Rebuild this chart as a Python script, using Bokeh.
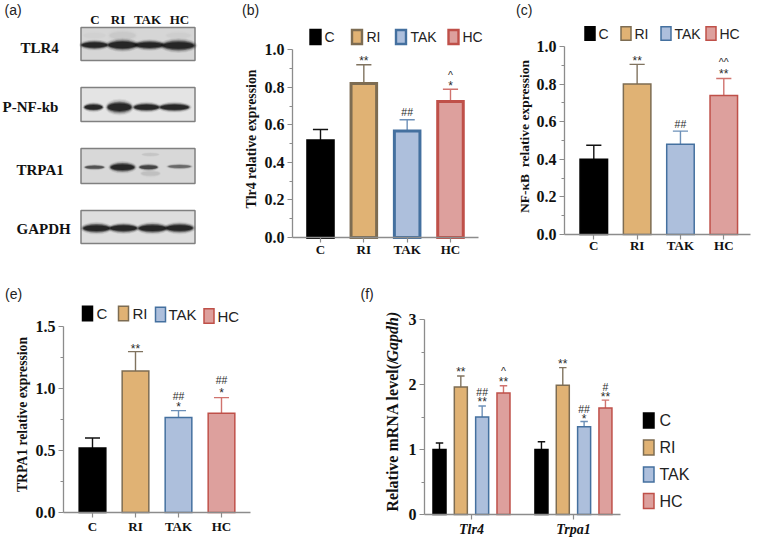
from bokeh.plotting import figure
from bokeh.layouts import column, row
from bokeh.models import Range1d, FixedTicker, NumeralTickFormatter
from bokeh.core.properties import value
from bokeh.embed import file_html
from bokeh.resources import INLINE

# ---------- data ----------
series = ["C", "RI", "TAK", "HC"]
tlr4_mean = [0.515, 0.82, 0.567, 0.725]
tlr4_top = [0.575, 0.92, 0.627, 0.79]
nfkb_mean = [0.40, 0.80, 0.48, 0.74]
nfkb_top = [0.475, 0.905, 0.55, 0.83]
trpa1_mean = [0.52, 1.14, 0.765, 0.80]
trpa1_top = [0.60, 1.295, 0.82, 0.925]
mrna_tlr4_mean = [1.0, 1.96, 1.5, 1.87]
mrna_tlr4_top = [1.10, 2.13, 1.67, 1.98]
mrna_trpa1_mean = [1.0, 1.99, 1.35, 1.64]
mrna_trpa1_top = [1.12, 2.26, 1.43, 1.76]

fills = ["#000000", "#e0b274", "#adbfdc", "#dda09d"]
edges = ["#000000", "#7d6c52", "#44709f", "#bf5049"]
whisk = ["#111111", "#80735f", "#6d90b8", "#d0736e"]

SERIF = "Liberation Serif"
SANS = "Liberation Sans"
AX = "#8c8c8c"


def make_panel(box, frame_left, frame_bottom, x_origin, x_unit, y_max, y_max_px, axis_end_px, standoff=0):
    cx0, cy0, cx1, cy1 = box
    unit_y = (frame_bottom - y_max_px) / y_max
    xr = Range1d((cx0 - x_origin) / x_unit, (cx1 - x_origin) / x_unit)
    yr = Range1d((frame_bottom - cy1) / unit_y, (frame_bottom - cy0) / unit_y)
    p = figure(width=cx1 - cx0, height=cy1 - cy0, x_range=xr, y_range=yr,
               min_border=0, output_backend="svg",
               toolbar_location=None, outline_line_color=None, background_fill_color=None,
               border_fill_color=None)
    p.grid.visible = False
    px = lambda v: (v - x_origin) / x_unit
    py = lambda v: (frame_bottom - v) / unit_y
    for ax in (p.xaxis[0], p.yaxis[0]):
        ax.axis_line_color = AX
        ax.axis_line_width = 1.3
        ax.major_tick_line_color = AX
        ax.major_tick_line_width = 1.2
        ax.minor_tick_line_color = AX
        ax.major_tick_in = 0
        ax.minor_tick_in = 0
        ax.major_tick_out = 5
        ax.minor_tick_out = 3
        ax.major_label_text_font = SERIF
        ax.major_label_text_font_style = "bold"
        ax.major_label_text_color = "#111111"
    p.xaxis[0].fixed_location = 0
    p.xaxis[0].bounds = (px(frame_left), px(axis_end_px))
    p.xaxis[0].minor_tick_out = 0
    p.xaxis[0].major_label_text_font_size = "13px"
    p.xaxis[0].major_label_standoff = standoff
    p.yaxis[0].fixed_location = px(frame_left)
    p.yaxis[0].bounds = (0, y_max)
    p.yaxis[0].major_label_text_font_size = "16px"
    p.yaxis[0].major_label_standoff = 3
    return p, px, py


def draw_bars(p, xs, mean, top, bar_w, lw):
    for i in range(4):
        p.segment([xs[i]], [mean[i]], [xs[i]], [top[i]], line_color=whisk[i], line_width=1.4)
        p.segment([xs[i] - 0.175], [top[i]], [xs[i] + 0.175], [top[i]], line_color=whisk[i], line_width=1.4)
        p.vbar(x=[xs[i]], width=bar_w, top=[mean[i]], bottom=0, fill_color=fills[i],
               line_color=edges[i], line_width=lw, line_join="miter")


def legend(p, px, py, swatch_x, text_x, ys, sw, sh, size, lw):
    for i, s in enumerate(series):
        p.quad(left=[px(swatch_x[i])], right=[px(swatch_x[i] + sw)],
               top=[py(ys[i] - sh / 2)], bottom=[py(ys[i] + sh / 2)],
               fill_color=fills[i], line_color=edges[i], line_width=lw, line_join="miter")
        p.text([px(text_x[i])], [py(ys[i])], text=[s], text_font=value(SANS), text_font_size=size,
               text_baseline="middle", text_align="left", text_color="#222222")


def marks(p, px, py, items):
    for x, txt, y in items:
        star = txt.startswith("*")
        p.text([x], [py(y + (2.5 if star else 0))], text=[txt], text_font=value(SANS),
               text_font_size="12px" if star else "10.5px",
               text_align="center", text_baseline="middle", text_color="#2a2a2a")


def panel_tag(p, x, y, txt):
    p.text([x], [y], text=[txt], text_font=value(SANS), text_font_size="14px",
           text_color="#222222", text_align="left", text_baseline="middle")


def y_title(p, x, y, txt, size, style="bold", align="center"):
    p.text([x], [y], text=[txt], angle=90, angle_units="deg", text_font=value(SERIF),
           text_font_size=size, text_font_style=style, text_color="#111111",
           text_align=align, text_baseline="middle")


# ---------- (a) blots ----------
blot_rows = ["TLR4", "P-NF-kb", "TRPA1", "GAPDH"]
blot_label_x = [20, 2, 16, 16]
blot_label_y = [47, 106, 169, 228]
blot_box_top = [27, 87, 148, 210]
blot_box_bottom = [60, 121, 183, 243]
blot_bg = ["#d6d6d6", "#e4e4e4", "#d8d8d8", "#dedede"]
lane_names_x = [94.5, 117.5, 147, 179]
# (row centre y, lane x, band width, band height, opacity)
blot_bands = [
    (35, 122, 28, 10, 0.035), (35, 94, 24, 8, 0.015), (35, 178, 26, 8, 0.02),
    (44.5, 94, 27, 7, 1.0), (44.5, 122, 30, 9, 1.0), (44.5, 149, 29, 7.5, 1.0), (45, 178, 33, 9.5, 1.0),
    (106.7, 93, 19, 6.5, 1.0), (106.7, 119, 25, 10.5, 1.0), (106.7, 146, 26, 7, 1.0), (106.7, 174, 30, 7, 1.0),
    (154, 150, 18, 4, 0.05), (173, 150, 20, 6, 0.07), (166.7, 94, 20, 4, 0.6), (166.7, 122, 25, 8, 1.0),
    (166.7, 148, 19, 5, 0.7), (166, 179, 24, 4, 0.45),
    (227.7, 96, 28, 8, 1.0), (227.7, 123, 28, 7.5, 1.0), (227.7, 152, 29, 8, 1.0), (227.5, 179, 28, 8, 1.0),
]
soft_layers = [(1.6, 0.06), (1.4, 0.10), (1.2, 0.16), (1.05, 0.24), (0.9, 0.36), (0.7, 0.6)]

pa = figure(width=215, height=275, x_range=Range1d(0, 215), y_range=Range1d(275, 0),
            min_border=0, output_backend="svg", toolbar_location=None,
            outline_line_color=None, border_fill_color=None)
pa.axis.visible = False
pa.grid.visible = False
for i, name in enumerate(blot_rows):
    pa.quad(left=[80.5], right=[194.5], top=[blot_box_top[i]], bottom=[blot_box_bottom[i]],
            fill_color=blot_bg[i], line_color="#808080", line_width=1.5)
    pa.text([blot_label_x[i]], [blot_label_y[i]], text=[name], text_font=value(SERIF),
            text_font_style="bold", text_font_size="15px", text_baseline="middle", text_color="#111111")
for y, x, w, h, o in blot_bands:
    for scale, alpha in soft_layers:
        pa.ellipse([x], [y], width=w * (scale * 0.25 + 0.75), height=h * scale, fill_color="#0a0a0a",
                   fill_alpha=alpha * o, line_color=None)
for x, s in zip(lane_names_x, series):
    pa.text([x], [19], text=[s], text_font=value(SERIF), text_font_style="bold", text_font_size="13px",
            text_align="center", text_baseline="middle", text_color="#111111")
panel_tag(pa, 4, 9, "(a)")

# ---------- (b) ----------
pb, px, py = make_panel((215, 0, 490, 275), 292, 237, 320, 43.33, 1.0, 49.3, 478, standoff=-1)
pb.yaxis[0].ticker = FixedTicker(ticks=[0, .2, .4, .6, .8, 1.0], minor_ticks=[.1, .3, .5, .7, .9])
pb.yaxis[0].formatter = NumeralTickFormatter(format="0.0")
pb.xaxis[0].ticker = FixedTicker(ticks=[0, 1, 2, 3])
pb.xaxis[0].major_label_overrides = {i: s for i, s in enumerate(series)}
draw_bars(pb, [0, 1, 2, 3], tlr4_mean, tlr4_top, 0.59, 3)
legend(pb, px, py, [310, 351.5, 395.5, 448], [324, 366, 410, 462], [36.5] * 4, 10, 14, "14px", 2.4)
marks(pb, px, py, [(1, "**", 58), (2, "##", 111), (3, "^", 74), (3, "*", 83)])
panel_tag(pb, px(241.5), py(9), "(b)")
y_title(pb, px(250.5), py(138.5), "Tlr4 relative expression", "13.8px")

# ---------- (c) ----------
pc, px, py = make_panel((490, 0, 758, 275), 564, 234, 593.3, 43.33, 1.0, 46, 750, standoff=-2)
pc.yaxis[0].ticker = FixedTicker(ticks=[0, .2, .4, .6, .8, 1.0], minor_ticks=[.1, .3, .5, .7, .9])
pc.yaxis[0].formatter = NumeralTickFormatter(format="0.0")
pc.xaxis[0].ticker = FixedTicker(ticks=[0, 1, 2, 3])
pc.xaxis[0].major_label_overrides = {i: s for i, s in enumerate(series)}
draw_bars(pc, [0, 1, 2, 3], nfkb_mean, nfkb_top, 0.635, 1.5)
legend(pc, px, py, [584.5, 620.5, 660.5, 705.5], [598, 634, 674, 719], [33] * 4, 10, 13.5, "14px", 1.5)
marks(pc, px, py, [(1, "**", 58), (2, "##", 123), (3, "^^", 61), (3, "**", 71)])
panel_tag(pc, px(515.5), py(9), "(c)")
y_title(pc, px(524), py(136), "NF-\u03baB\u00a0 relative expression", "13.5px")

# ---------- (e) ----------
pe, px, py = make_panel((0, 275, 350, 537), 63, 512, 92, 43, 1.5, 325.7, 250, standoff=1)
pe.yaxis[0].ticker = FixedTicker(ticks=[0, .5, 1.0, 1.5], minor_ticks=[.25, .75, 1.25])
pe.yaxis[0].formatter = NumeralTickFormatter(format="0.0")
pe.xaxis[0].ticker = FixedTicker(ticks=[0, 1, 2, 3])
pe.xaxis[0].major_label_overrides = {i: s for i, s in enumerate(series)}
draw_bars(pe, [0, 1, 2, 3], trpa1_mean, trpa1_top, 0.62, 1.5)
legend(pe, px, py, [82, 118, 155, 203.5], [96, 132, 168, 217], [313, 313, 314, 315.5], 10, 14.5, "15px", 1.5)
marks(pe, px, py, [(1, "**", 346), (2, "##", 395), (2, "*", 404), (3, "##", 379), (3, "*", 390)])
panel_tag(pe, px(4.5), py(293), "(e)")
y_title(pe, px(22), py(414), "TRPA1 relative expression", "13.7px")

# ---------- (f) ----------
group_x = [[0, 1, 2, 3], [4.78, 5.78, 6.78, 7.78]]
pf, px, py = make_panel((350, 275, 758, 537), 424, 514, 439, 21.33, 3, 319, 619.5, standoff=2)
pf.yaxis[0].ticker = FixedTicker(ticks=[0, 1, 2, 3], minor_ticks=[.5, 1.5, 2.5])
pf.yaxis[0].formatter = NumeralTickFormatter(format="0")
pf.xaxis[0].ticker = FixedTicker(ticks=[1.5, 6.28])
pf.xaxis[0].major_label_overrides = {1.5: "Tlr4", 6.28: "Trpa1"}
pf.xaxis[0].major_label_text_font_style = "bold italic"
pf.xaxis[0].major_label_text_font_size = "14px"
draw_bars(pf, group_x[0], mrna_tlr4_mean, mrna_tlr4_top, 0.61, 1.5)
draw_bars(pf, group_x[1], mrna_trpa1_mean, mrna_trpa1_top, 0.61, 1.5)
legend(pf, px, py, [643] * 4, [659] * 4, [420, 447, 474, 500.5], 10.5, 15, "16px", 1.5)
marks(pf, px, py, [(1, "**", 369), (2, "##", 391), (2, "**", 399), (3, "^", 370), (3, "**", 379),
                   (5.78, "**", 361), (6.78, "##", 408), (6.78, "*", 416), (7.78, "#", 386), (7.78, "**", 394)])
panel_tag(pf, px(360), py(293), "(f)")
y_title(pf, px(391.5), py(511), "Relative mRNA level(/", "16px", align="left")
y_title(pf, px(391.5), py(361), "Gapdh)", "16px", style="bold italic", align="left")

page = column(row(pa, pb, pc, spacing=0), row(pe, pf, spacing=0), spacing=0)
open("out.html", "w").write(file_html(page, INLINE))
